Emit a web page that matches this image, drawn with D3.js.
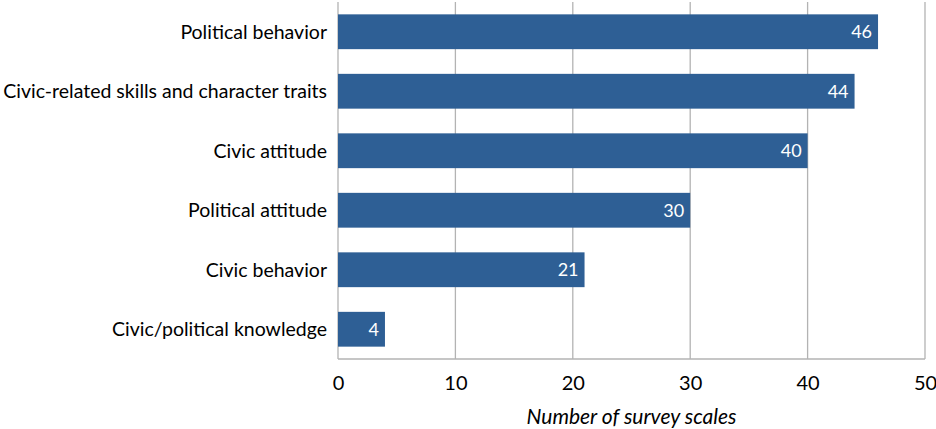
<!DOCTYPE html>
<html><head><meta charset="utf-8">
<script src="https://cdn.jsdelivr.net/npm/d3@7"></script>
<style>body{margin:0;background:#fff}</style>
</head><body>
<svg id="c" width="936" height="429"></svg>
<script>
const categories = ["Political behavior","Civic-related skills and character traits","Civic attitude","Political attitude","Civic behavior","Civic/political knowledge"];
const values = [46,44,40,30,21,4];
const ticks = [0,10,20,30,40,50];
const axisTitle = "Number of survey scales";

const svg = d3.select("#c");
const m = {l:338, r:11, t:2, b:70};
const W = 936, H = 429;
const x = d3.scaleLinear().domain([0,50]).range([m.l, W-m.r]);
const y = d3.scaleBand().domain(categories).range([m.t, H-m.b]).paddingInner(0.415).paddingOuter(0.2075);
const font = "Lato, 'Open Sans', sans-serif";

// gridlines
svg.append("g").selectAll("line").data(ticks).join("line")
  .attr("x1", d=>x(d)).attr("x2", d=>x(d)).attr("y1", m.t).attr("y2", H-m.b)
  .attr("stroke", "#b3b3b3").attr("stroke-width", 1.3);
// bottom axis line
svg.append("line").attr("x1", x(0)).attr("x2", x(50)).attr("y1", H-m.b).attr("y2", H-m.b)
  .attr("stroke", "#b3b3b3").attr("stroke-width", 1.5);

// bars
svg.append("g").selectAll("rect").data(categories).join("rect")
  .attr("x", x(0)).attr("y", d=>y(d)).attr("width", (d,i)=>x(values[i])-x(0)).attr("height", y.bandwidth())
  .attr("fill", "#2e5f95");

// value labels
svg.append("g").selectAll("text").data(categories).join("text")
  .attr("x", (d,i)=>x(values[i])-6).attr("y", d=>y(d)+y.bandwidth()/2)
  .attr("dy","0.36em").attr("text-anchor","end").attr("fill","#fff")
  .style("font-family", font).style("font-size","18px").text((d,i)=>values[i]);

// category labels
const cl = svg.append("g").selectAll("text").data(categories).join("text")
  .attr("x", m.l-11).attr("y", d=>y(d)+y.bandwidth()/2)
  .attr("dy","0.36em").attr("text-anchor","end").attr("fill","#000")
  .style("font-family", font).style("font-size","19.5px").text(d=>d);

// x axis labels
const ax = svg.append("g").attr("transform", `translate(0,${H-m.b})`)
  .call(d3.axisBottom(x).tickValues(ticks).tickSize(0).tickPadding(17));
ax.select(".domain").remove();
ax.selectAll("text").style("font-family", font).style("font-size","20px").attr("fill","#000");

svg.append("text").attr("x", (x(0)+x(50))/2).attr("y", 424)
  .attr("text-anchor","middle").style("font-family", font).style("font-size","21px").style("font-style","italic")
  .text(axisTitle);
</script>
</body></html>
